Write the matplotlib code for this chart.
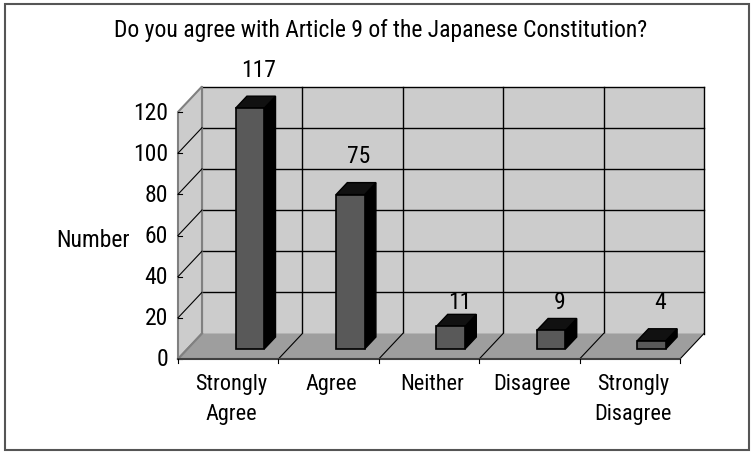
import matplotlib
matplotlib.use('Agg')
import matplotlib.pyplot as plt
from matplotlib.patches import Polygon, Rectangle

categories = ["Strongly\nAgree", "Agree", "Neither", "Disagree", "Strongly\nDisagree"]
counts = [117, 75, 11, 9, 4]
y_ticks = [0, 20, 40, 60, 80, 100, 120]
title = "Do you agree with Article 9 of the Japanese Constitution?"
y_label = "Number"

plt.rcParams['font.family'] = ['Roboto Condensed', 'DejaVu Sans']

W, H = 753, 456
fig = plt.figure(figsize=(W / 100, H / 100), dpi=100)
ax = fig.add_axes([178 / W, (H - 360) / H, 502 / W, 247 / H])
n = len(categories)
ax.set_xlim(0, n)
ax.set_ylim(0, y_ticks[-1])
ax.axis('off')

# oblique depth in data units
DX = 24 / (502 / n)
DY = 25.5 / (247 / y_ticks[-1])


def P(x, y, t):
    return (x + DX * t, y + DY * t)


wall = '#cccccc'
floor = '#9e9e9e'
ymax = y_ticks[-1]

# back wall
ax.add_patch(Polygon([P(0, 0, 1), P(n, 0, 1), P(n, ymax, 1), P(0, ymax, 1)],
                     closed=True, fc=wall, ec='none', clip_on=False, zorder=1))
for g in y_ticks[1:]:
    ax.plot([P(0, g, 1)[0], P(n, g, 1)[0]], [P(0, g, 1)[1]] * 2, color='black', lw=1.0,
            clip_on=False, zorder=2)
for i in range(1, n + 1):
    ax.plot([P(i, 0, 1)[0]] * 2, [P(i, 0, 1)[1], P(i, ymax, 1)[1]], color='black', lw=1.0,
            clip_on=False, zorder=2)
ax.plot([P(0, 0, 1)[0]] * 2, [P(0, 0, 1)[1], P(0, ymax, 1)[1]], color='#808080', lw=1.5,
        clip_on=False, zorder=2)

# side wall
ax.add_patch(Polygon([P(0, 0, 0), P(0, ymax, 0), P(0, ymax, 1), P(0, 0, 1)],
                     closed=True, fc=wall, ec='#808080', lw=1.5, clip_on=False, zorder=3))
for g in y_ticks[1:-1]:
    a, b = P(0, g, 0), P(0, g, 1)
    ax.plot([a[0], b[0]], [a[1], b[1]], color='black', lw=0.8, clip_on=False, zorder=4)
for g in y_ticks:
    ax.plot([0, 0.04], [g, g], color='black', lw=0.8, clip_on=False, zorder=4)

# floor
ax.add_patch(Polygon([P(0, 0, 0), P(n, 0, 0), P(n, 0, 1), P(0, 0, 1)],
                     closed=True, fc=floor, ec='none', clip_on=False, zorder=5))
for i in range(1, n + 1):
    a, b = P(i, 0, 0), P(i, 0, 1)
    ax.plot([a[0], b[0]], [a[1], b[1]], color='black', lw=0.8, clip_on=False, zorder=6)
a, b = P(0, 0, 0), P(0, 0, 1)
ax.plot([a[0], b[0]], [a[1], b[1]], color='#808080', lw=1.5, clip_on=False, zorder=6)
ax.plot([0, n], [0, 0], color='#404040', lw=1.5, clip_on=False, zorder=6)
for i in range(n + 1):
    ax.plot([i, i], [0, -1.8], color='black', lw=0.8, clip_on=False, zorder=6)

# bars
tf, tb = 10 / 25.5, 22 / 25.5
bl, br = 0.48, 0.765
for i, v in enumerate(counts):
    x0, x1 = i + bl, i + br
    side = [P(x1, 0, tf), P(x1, 0, tb), P(x1, v, tb), P(x1, v, tf)]
    top = [P(x0, v, tf), P(x1, v, tf), P(x1, v, tb), P(x0, v, tb)]
    front = [P(x0, 0, tf), P(x1, 0, tf), P(x1, v, tf), P(x0, v, tf)]
    ax.add_patch(Polygon(side, closed=True, fc='black', ec='black', lw=1.0,
                         clip_on=False, zorder=7))
    ax.add_patch(Polygon(top, closed=True, fc='#111111', ec='black', lw=1.0,
                         clip_on=False, zorder=7))
    ax.add_patch(Polygon(front, closed=True, fc='#595959', ec='black', lw=1.2,
                         clip_on=False, zorder=8))
    cx = i + (bl + br) / 2 + DX * (tf + tb) / 2 + 0.03
    ly = v + DY * tb + 13 if v >= 20 else 27.7
    ax.text(cx, ly, str(v), ha='center', va='center', fontsize=17, zorder=9)

# axis texts
for g in y_ticks:
    ax.text(-0.1, g, str(g), ha='right', va='center', fontsize=17)
ax.text(-0.85, 58, y_label, ha='center', va='center', fontsize=17)
for i, c in enumerate(categories):
    ax.text(i + 0.53, -7, c, ha='center', va='top', fontsize=16, linespacing=1.55)

fig.text(381 / W, 1 - 37 / H, title, ha='center', va='baseline', fontsize=17)
fig.add_artist(Rectangle((5 / W, 5 / H), 744 / W, 446 / H, transform=fig.transFigure,
                         fill=False, ec='#555555', lw=1.5))

fig.savefig('out.png', dpi=100)
